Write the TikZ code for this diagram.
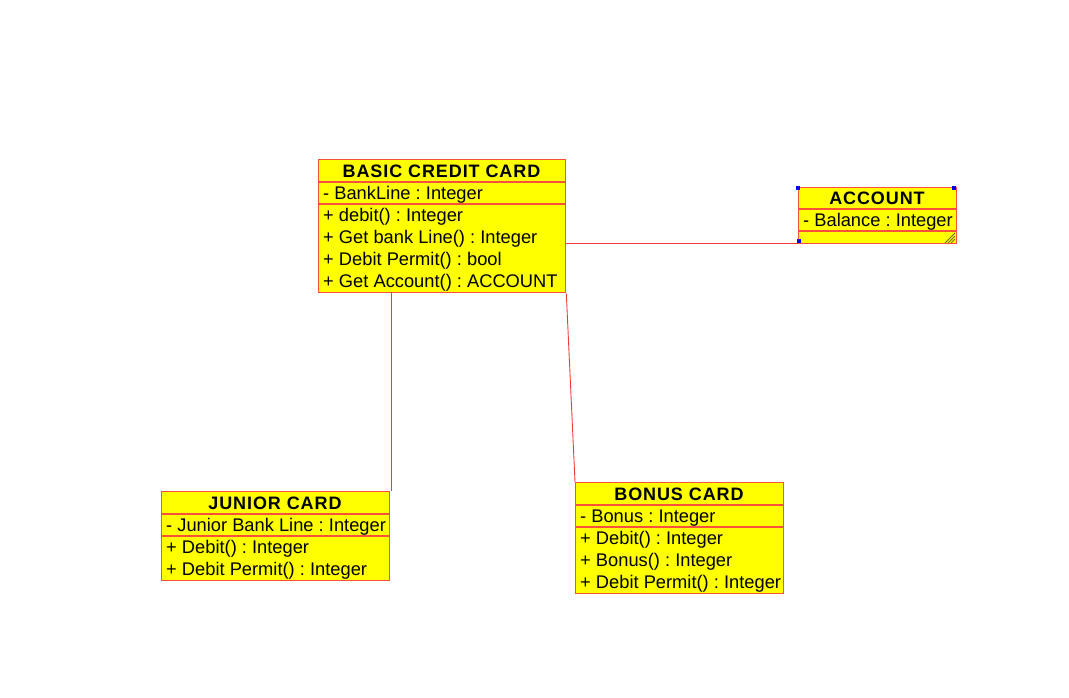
\documentclass[tikz,border=0pt]{standalone}
\usepackage{fontspec}
\setmainfont{Liberation Sans}
\newfontfamily\titlefont[LetterSpace=5]{Liberation Sans}
\definecolor{boxred}{RGB}{250,80,60}
\definecolor{lnred}{RGB}{240,60,60}
\definecolor{umlyellow}{RGB}{255,255,0}
\definecolor{handle}{RGB}{0,0,230}
\definecolor{grip}{RGB}{110,110,30}
\tikzset{
  umlbox/.style={draw=boxred, fill=umlyellow, line width=1.3pt, rectangle, anchor=north west, inner sep=0pt},
  divider/.style={draw=boxred, line width=1.3pt},
  rowtext/.style={anchor=base west, inner sep=0pt, font=\fontsize{18.3}{22}\selectfont},
  titletext/.style={anchor=base, inner sep=0pt, font=\titlefont\bfseries\fontsize{18}{22}\selectfont},
  conn/.style={draw=lnred, line width=0.9pt},
  hnd/.style={fill=handle, draw=none},
  gripline/.style={draw=grip, line width=0.8pt}
}
\frenchspacing
\begin{document}
\frenchspacing
\begin{tikzpicture}[x=1pt,y=-1pt]
\useasboundingbox (0,0) rectangle (1069,697);

% BASIC CREDIT CARD
\node[umlbox, minimum width=247pt, minimum height=133pt] (basic) at (318,159) {};
\draw[divider] (318,182) -- (565,182);
\draw[divider] (318,204) -- (565,204);
\node[titletext] (basicT) at (441.5,177.5) {BASIC CREDIT CARD};
\node[rowtext] (basicA) at (323,199.5) {- BankLine : Integer};
\node[rowtext] (basicM1) at (323,221.5) {+ debit() : Integer};
\node[rowtext] (basicM2) at (323,243.5) {+ Get bank Line() : Integer};
\node[rowtext] (basicM3) at (323,265.5) {+ Debit Permit() : bool};
\node[rowtext] (basicM4) at (323,287.5) {+ Get Account() : ACCOUNT};

% ACCOUNT
\node[umlbox, minimum width=158pt, minimum height=56pt] (account) at (798,187) {};
\draw[divider] (798,209) -- (956,209);
\draw[divider] (798,231) -- (956,231);
\node[titletext] (accountT) at (877,204.5) {ACCOUNT};
\node[rowtext] (accountA) at (803,226.5) {- Balance : Integer};
\fill[hnd] (796,185.5) rectangle (800,189.5);
\fill[hnd] (952,185.5) rectangle (956,189.5);
\fill[hnd] (797,239) rectangle (801,243);
\draw[gripline] (955,233) -- (945,243);
\draw[gripline] (955,236) -- (948,243);
\draw[gripline] (955,239) -- (951,243);

% JUNIOR CARD
\node[umlbox, minimum width=228pt, minimum height=89pt] (junior) at (161,491) {};
\draw[divider] (161,514) -- (389,514);
\draw[divider] (161,536) -- (389,536);
\node[titletext] (juniorT) at (275,509.5) {JUNIOR CARD};
\node[rowtext] (juniorA) at (166,531.5) {- Junior Bank Line : Integer};
\node[rowtext] (juniorM1) at (166,553.5) {+ Debit() : Integer};
\node[rowtext] (juniorM2) at (166,575.5) {+ Debit Permit() : Integer};

% BONUS CARD
\node[umlbox, minimum width=208pt, minimum height=111pt] (bonus) at (575,482) {};
\draw[divider] (575,505) -- (783,505);
\draw[divider] (575,527) -- (783,527);
\node[titletext] (bonusT) at (679,500.5) {BONUS CARD};
\node[rowtext] (bonusA) at (580,522.5) {- Bonus : Integer};
\node[rowtext] (bonusM1) at (580,544.5) {+ Debit() : Integer};
\node[rowtext] (bonusM2) at (580,566.5) {+ Bonus() : Integer};
\node[rowtext] (bonusM3) at (580,588.5) {+ Debit Permit() : Integer};

% connectors
\coordinate (jtop) at ([xshift=1pt]junior.north east);
\coordinate (aleft) at ([yshift=1pt]account.south west);
\draw[conn] (jtop) -- (jtop |- basic.south);
\draw[conn] (basic.east |- aleft) -- (aleft);
\draw[conn] (basic.south east) -- (bonus.north west);
\end{tikzpicture}
\end{document}
